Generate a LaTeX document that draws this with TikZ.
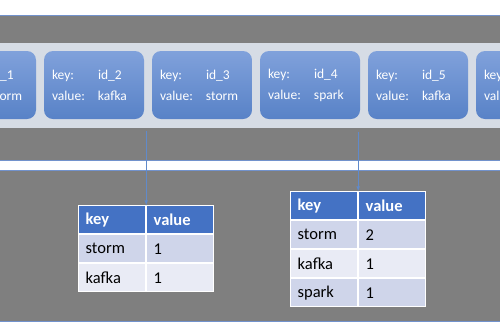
\documentclass[tikz,border=0pt]{standalone}
\usepackage{fontspec}
\setmainfont{Carlito}
\usetikzlibrary{arrows,positioning,matrix}

\definecolor{panel}{RGB}{127,127,127}
\definecolor{panelline}{RGB}{114,146,204}
\definecolor{strip}{RGB}{214,220,229}
\definecolor{rectop}{RGB}{128,161,219}
\definecolor{recbot}{RGB}{88,130,199}
\definecolor{headblue}{RGB}{68,114,196}
\definecolor{rowdark}{RGB}{207,213,234}
\definecolor{rowlight}{RGB}{233,235,245}
\definecolor{feedline}{RGB}{96,138,202}

\begin{document}
\begin{tikzpicture}[x=1pt,y=-1pt,record/.style={rectangle,rounded corners=9pt,minimum width=100pt,minimum height=68pt,text width=84pt,inner xsep=8pt,align=left,top color=rectop,bottom color=recbot,text=white,font=\fontsize{13.5}{21}\selectfont}, cell/.style={rectangle,draw=white,line width=1pt,minimum height=28pt,text width=53pt,inner xsep=7pt,inner ysep=0pt,anchor=center,align=left,font=\fontsize{16.5}{20}\selectfont}, head/.style={cell,fill=headblue,text=white,font=\fontsize{16.5}{20}\selectfont\bfseries}, dark/.style={cell,fill=rowdark}, light/.style={cell,fill=rowlight}, feed/.style={->,>=latex,line width=0.7pt,draw=feedline}]
\useasboundingbox (0,0) rectangle (500,325);

% two grey panels and the band holding the records
\draw [fill=panel,draw=panelline,line width=0.8pt] (-5,15) rectangle (505,160);
\draw [fill=panel,draw=panelline,line width=0.8pt] (-5,170) rectangle (505,321);
\fill [strip] (-5,43) rectangle (505,128);

\node(r1)[record] at (-14,85) {\makebox[46pt][l]{key:}id\_1\\\makebox[46pt][l]{value:}storm};
\node(r2)[record] at (94,85) {\makebox[46pt][l]{key:}id\_2\\\makebox[46pt][l]{value:}kafka};
\node(r3)[record] at (202,85) {\makebox[46pt][l]{key:}id\_3\\\makebox[46pt][l]{value:}storm};
\node(r4)[record] at (310,85) {\makebox[46pt][l]{key:}id\_4\\\makebox[46pt][l]{value:}spark};
\node(r5)[record] at (418,85) {\makebox[46pt][l]{key:}id\_5\\\makebox[46pt][l]{value:}kafka};
\node(r6)[record] at (526,85) {\makebox[46pt][l]{key:}id\_6\\\makebox[46pt][l]{value:}storm};

\matrix(t1)[anchor=north west,inner sep=0pt,row sep=0pt,column sep=0pt] at (78,205)
{
\node(k1)[head]{key};  \pgfmatrixnextcell \node(v1)[head]{value};\\
\node()[dark]{storm};  \pgfmatrixnextcell \node()[dark]{1};\\
\node()[light]{kafka};  \pgfmatrixnextcell \node()[light]{1};\\
};

\matrix(t2)[anchor=north west,inner sep=0pt,row sep=0pt,column sep=0pt] at (290,191)
{
\node(k2)[head]{key};  \pgfmatrixnextcell \node(v2)[head]{value};\\
\node()[dark]{storm};  \pgfmatrixnextcell \node()[dark]{2};\\
\node()[light]{kafka};  \pgfmatrixnextcell \node()[light]{1};\\
\node()[dark]{spark};  \pgfmatrixnextcell \node()[dark]{1};\\
};

\coordinate (s1) at (k1.north east |- 0,131);
\coordinate (s2) at (k2.north east |- 0,132);
\draw [feed] (s1) to (k1.north east);
\draw [feed] (s2) to (k2.north east);
\end{tikzpicture}
\end{document}
